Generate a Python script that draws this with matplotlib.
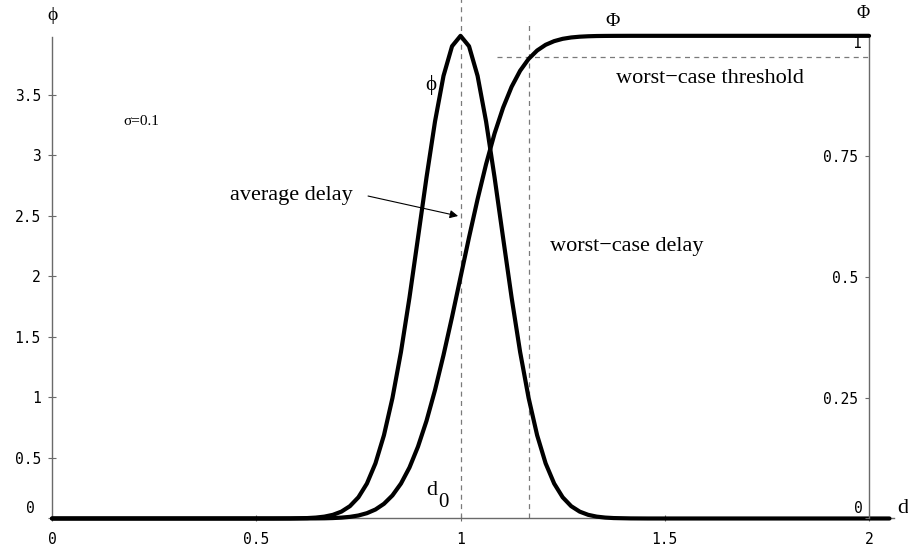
#!/usr/bin/env python3
import matplotlib.pyplot as plt

# sample points (delay d)
d_samples = [0.0, 0.5, 0.5417, 0.5833,
             0.625, 0.6458, 0.6667, 0.6875, 0.7083, 0.7292, 0.75, 0.7708,
             0.7917, 0.8125, 0.8333, 0.8542, 0.875, 0.8958, 0.9167, 0.9375,
             0.9583, 0.9792, 1.0, 1.0208, 1.0417, 1.0625, 1.0833, 1.1042,
             1.125, 1.1458, 1.1667, 1.1875, 1.2083, 1.2292, 1.25, 1.2708,
             1.2917, 1.3125, 1.3333, 1.3542, 1.375,
             1.4167, 1.4583, 1.5]
# density phi(d), left axis
phi_vals = [0.0, 0.0, 0.0, 0.0007,
            0.0035, 0.0075, 0.0154, 0.0302, 0.0567, 0.1019, 0.1753, 0.2887,
            0.4555, 0.688, 0.995, 1.377, 1.826, 2.319, 2.819, 3.281,
            3.658, 3.903, 3.989, 3.903, 3.658, 3.281, 2.819, 2.319,
            1.826, 1.377, 0.995, 0.688, 0.4555, 0.2887, 0.1753, 0.1019,
            0.0567, 0.0302, 0.0154, 0.0075, 0.0035,
            0.0007, 0.0, 0.0]
# distribution Phi(d), right axis
Phi_vals = [0.0, 0.0, 0.0, 0.0,
            0.0001, 0.0002, 0.0004, 0.0009, 0.0018, 0.0034, 0.0062, 0.011,
            0.0186, 0.0304, 0.0478, 0.0724, 0.1056, 0.1488, 0.2023, 0.266,
            0.3385, 0.4175, 0.5, 0.5825, 0.6615, 0.734, 0.7977, 0.8512,
            0.8944, 0.9276, 0.9522, 0.9696, 0.9814, 0.989, 0.9938, 0.9966,
            0.9982, 0.9991, 0.9996, 0.9998, 0.9999,
            1.0, 1.0, 1.0]
d_tail_phi = [2.05]
phi_tail = [0.0]
d_tail_Phi = [2.0]
Phi_tail = [1.0]

phi_peak = 3.989          # left-axis value matching Phi = 1
d_avg = 1.0
d_worst = 1.168
threshold = 0.957

x_ticks = [0, 0.5, 1, 1.5, 2]
x_labels = ["0", "0.5", "1", "1.5", "2"]
left_ticks = [0, 0.5, 1, 1.5, 2, 2.5, 3, 3.5]
left_labels = ["", "0.5", "1", "1.5", "2", "2.5", "3", "3.5"]
right_ticks = [0, 0.25, 0.5, 0.75, 1]
right_labels = ["", "0.25", "0.5", "0.75", ""]

SERIF = ["Liberation Serif", "DejaVu Serif"]
MONO = "DejaVu Sans Mono"
GREY = "#6a6a6a"
DASH = dict(color="#7a7a7a", lw=0.9, dashes=(4, 3.5), clip_on=False)
TICK_FS = 10.5

fig = plt.figure(figsize=(9.08, 5.51), dpi=100)
ax = fig.add_axes([0.0573, 0.059, 0.9268, 0.8762])
ax.set_xlim(0, 2.06)
ax.set_ylim(0, 3.99)
ax2 = ax.twinx()
ax2.set_ylim(0, 3.99 / phi_peak)

# guide lines
ax.plot([d_avg, d_avg], [0, 4.29], **DASH)
ax.plot([d_worst, d_worst], [0, 4.11], **DASH)
ax2.plot([1.09, 2.0], [threshold, threshold], **DASH)

# the "1" label of the right axis sits under the Phi curve
ax2.text(1.98, 0.985, "1", ha="right", va="center", fontfamily=MONO,
         fontsize=TICK_FS, zorder=3)

# curves
ax.plot(d_samples + d_tail_phi, phi_vals + phi_tail, color="k", lw=3,
        solid_capstyle="round", solid_joinstyle="round", clip_on=False, zorder=5)
ax2.plot(d_samples + d_tail_Phi, Phi_vals + Phi_tail, color="k", lw=3,
         solid_capstyle="round", solid_joinstyle="round", clip_on=False, zorder=5)

# spines
for s in ["top", "right"]:
    ax.spines[s].set_visible(False)
for s in ["top", "left", "bottom"]:
    ax2.spines[s].set_visible(False)
ax.spines["left"].set_bounds(0, 3.98)
ax.spines["bottom"].set_bounds(0, 2.06)
ax2.spines["right"].set_position(("data", 2))
ax2.spines["right"].set_bounds(0, 1)
for sp in [ax.spines["left"], ax.spines["bottom"], ax2.spines["right"]]:
    sp.set_color(GREY)
    sp.set_linewidth(1.0)

# ticks
ax.set_xticks(x_ticks, x_labels)
ax.set_yticks(left_ticks, left_labels)
ax.tick_params(axis="x", direction="inout", length=5, width=0.8, color=GREY,
               pad=7, labelsize=TICK_FS)
ax.tick_params(axis="y", direction="inout", length=6, width=0.8, color=GREY,
               pad=5, labelsize=TICK_FS)
ax2.set_yticks(right_ticks, right_labels)
ax2.tick_params(axis="y", direction="in", length=3, width=0.8, color=GREY,
                pad=-8, labelsize=TICK_FS)
for lab in ax.get_xticklabels() + ax.get_yticklabels() + ax2.get_yticklabels():
    lab.set_fontfamily(MONO)
for lab in ax2.get_yticklabels():
    lab.set_horizontalalignment("right")
ax.text(-0.043, 0.08, "0", ha="right", va="center", fontfamily=MONO, fontsize=TICK_FS)
ax2.text(1.985, 0.02, "0", ha="right", va="center", fontfamily=MONO, fontsize=TICK_FS)

# axis names
ax.text(0.0, 4.16, "\u03d5", ha="center", va="center", family=SERIF, fontsize=14)
ax.text(1.985, 4.17, "\u03a6", ha="center", va="center", family=SERIF, fontsize=13)
ax.text(2.083, 0.08, "d", ha="center", va="center", family=SERIF, fontsize=16)

# annotations
ax.text(0.174, 3.28, "\u03c3=0.1", ha="left", va="center", family=SERIF, fontsize=11)
ax.text(0.928, 3.58, "\u03d5", ha="center", va="center", family=SERIF, fontsize=15)
ax.text(1.371, 4.11, "\u03a6", ha="center", va="center", family=SERIF, fontsize=14)
ax.text(1.381, 3.64, "worst\u2212case threshold", ha="left", va="center",
        family=SERIF, fontsize=16)
ax.text(1.219, 2.25, "worst\u2212case delay", ha="left", va="center",
        family=SERIF, fontsize=16)
ax.text(0.436, 2.67, "average delay", ha="left", va="center", family=SERIF,
        fontsize=16)
ax.annotate("", xy=(0.994, 2.50), xytext=(0.7736, 2.665),
            arrowprops=dict(arrowstyle="-|>", color="k", lw=0.8,
                            mutation_scale=12, shrinkA=0, shrinkB=0))
ax.text(0.93, 0.235, "d", ha="center", va="center", family=SERIF, fontsize=16)
ax.text(0.958, 0.13, "0", ha="center", va="center", family=SERIF, fontsize=15)

fig.savefig("out.png", dpi=100)
plt.close(fig)
